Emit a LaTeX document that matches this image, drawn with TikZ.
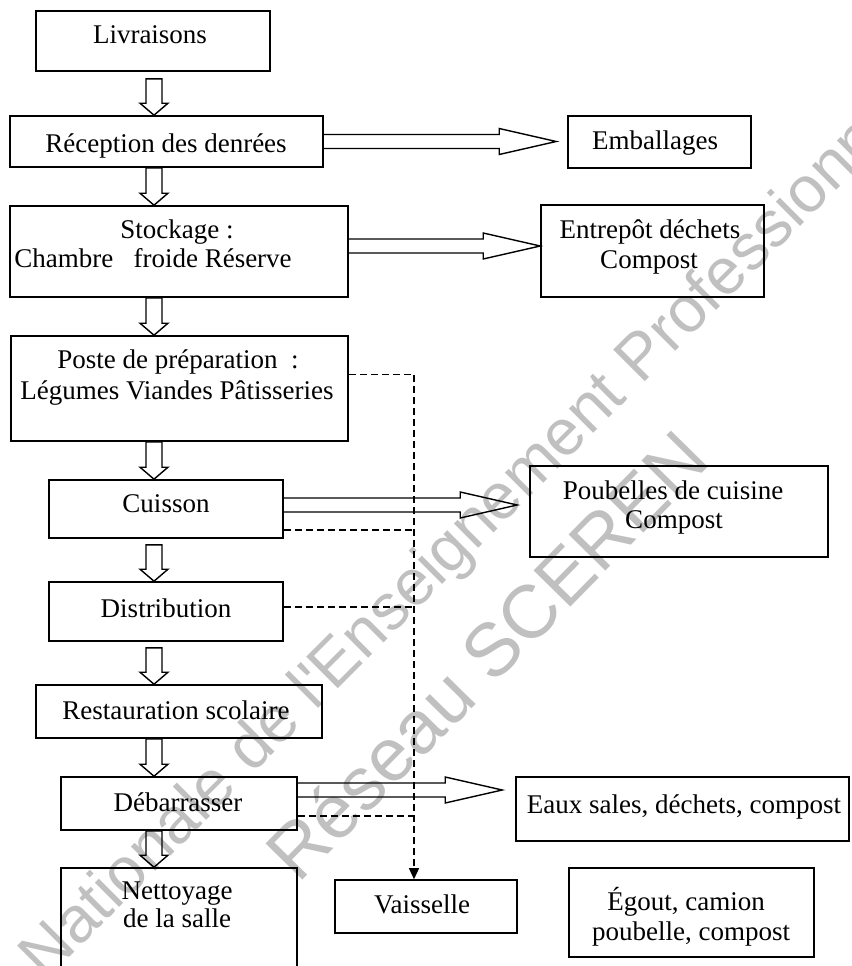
\documentclass[tikz,border=0pt]{standalone}
\usepackage{fontspec}
\setmainfont{Liberation Serif}
\newfontfamily\wmfont{Liberation Sans}
\usetikzlibrary{arrows.meta,fit}
\definecolor{wmgrey}{RGB}{192,192,192}
% hollow block arrow going down: #1 source, #2 target, #3 gap below source
\newcommand{\dnblock}[3]{%
  \draw[blk] ([xshift=-8pt,yshift=-#3]col |- #1.south)
    -- ([xshift=-8pt,yshift=12pt]col |- #2.north)
    -- ([xshift=-14pt,yshift=12pt]col |- #2.north)
    -- (col |- #2.north)
    -- ([xshift=14pt,yshift=12pt]col |- #2.north)
    -- ([xshift=8pt,yshift=12pt]col |- #2.north)
    -- ([xshift=8pt,yshift=-#3]col |- #1.south) -- cycle;}
% hollow block arrow going right: #1 source, #2 target, #3 vertical shift, #4 gap before target
\newcommand{\rtblock}[4]{%
  \coordinate (bs) at ([yshift=#3]#1.east);
  \coordinate (bt) at ([xshift=-#4]#2.west |- bs);
  \draw[blk] ([yshift=7pt]bs)
    -- ([xshift=-57pt,yshift=7pt]bt)
    -- ([xshift=-57pt,yshift=13pt]bt)
    -- (bt)
    -- ([xshift=-57pt,yshift=-13pt]bt)
    -- ([xshift=-57pt,yshift=-7pt]bt)
    -- ([yshift=-7pt]bs);}
\begin{document}
\begin{tikzpicture}[x=1pt,y=-1pt,
  box/.style={draw,line width=1.6pt,inner sep=0pt},
  txt/.style={anchor=base,inner sep=0pt,font=\fontsize{27}{29}\selectfont},
  blk/.style={draw,line width=1.4pt,line join=miter},
  dsh/.style={draw,line width=1.4pt,dash pattern=on 7pt off 4pt},
  wm/.style={anchor=base west,inner sep=0pt,text=wmgrey}]
\useasboundingbox (0,0) rectangle (851,966);
\clip (0,0) rectangle (851,966);

% watermark
\node[wm,rotate=45,font=\wmfont\fontsize{65}{65}\selectfont] (wm1) at (45,982) {Nationale de l'Enseignement Professionnel};
\node[wm,rotate=45.5,font=\wmfont\fontsize{75}{75}\selectfont] (wm2) at (298,885) {Réseau SCEREN};

% boxes
\node[box,fit={(36,11) (270,71)}] (liv) {};
\node[box,fit={(10,116) (323,167)}] (rec) {};
\node[box,fit={(568,116) (751,168)}] (emb) {};
\node[box,fit={(10,206) (348,297)}] (sto) {};
\node[box,fit={(541,205) (764,297)}] (ent) {};
\node[box,fit={(11,336) (348,441)}] (pos) {};
\node[box,fit={(49,480) (283,538)}] (cui) {};
\node[box,fit={(530,466) (828,557)}] (pou) {};
\node[box,fit={(49,582) (283,641)}] (dis) {};
\node[box,fit={(36,685) (322,738)}] (res) {};
\node[box,fit={(61,777) (297,830)}] (deb) {};
\node[box,fit={(516,777) (849,841)}] (eau) {};
\node[box,fit={(61,868) (297,990)}] (net) {};
\node[box,fit={(335,880) (517,933)}] (vai) {};
\node[box,fit={(569,868) (814,957)}] (ego) {};

% texts
\node[txt] (liv-t) at (150,44) {Livraisons};
\node[txt] (rec-t) at (166,152) {Réception des denrées};
\node[txt] (emb-t) at (655,149) {Emballages};
\node[txt] (sto-t1) at (177,238) {Stockage :};
\node[txt] (sto-t2) at (153,267) {Chambre\ \ \ froide Réserve};
\node[txt] (ent-t1) at (650,238) {Entrepôt déchets};
\node[txt] (ent-t2) at (649,268) {Compost};
\node[txt] (pos-t1) at (178,368) {Poste de préparation\ \ :};
\node[txt] (pos-t2) at (177,399) {Légumes Viandes Pâtisseries};
\node[txt] (cui-t) at (166,512) {Cuisson};
\node[txt] (pou-t1) at (673,499) {Poubelles de cuisine};
\node[txt] (pou-t2) at (674,528) {Compost};
\node[txt] (dis-t) at (166,617) {Distribution};
\node[txt] (res-t) at (176,719) {Restauration scolaire};
\node[txt] (deb-t) at (178,811) {Débarrasser};
\node[txt] (eau-t) at (684,813) {Eaux sales, déchets, compost};
\node[txt] (net-t1) at (177,899) {Nettoyage};
\node[txt] (net-t2) at (177,927) {de la salle};
\node[txt] (vai-t) at (422,913) {Vaisselle};
\node[txt] (ego-t1) at (686,910) {Égout, camion};
\node[txt] (ego-t2) at (691,940) {poubelle, compost};

% main flow (hollow down arrows)
\coordinate (col) at (154,0);
\dnblock{liv}{rec}{7pt}
\dnblock{rec}{sto}{0pt}
\dnblock{sto}{pos}{0pt}
\dnblock{pos}{cui}{0pt}
\dnblock{cui}{dis}{6pt}
\dnblock{dis}{res}{6pt}
\dnblock{res}{deb}{0pt}
\dnblock{deb}{net}{0pt}

% waste flows (hollow right arrows)
\rtblock{rec}{emb}{0pt}{11pt}
\rtblock{sto}{ent}{5.5pt}{0pt}
\rtblock{cui}{pou}{4pt}{12pt}
\rtblock{deb}{eau}{13.5pt}{13pt}

% dishes (dashed)
\coordinate (dx) at (414,0);
\coordinate (dp) at ([yshift=14pt]pos.east);
\coordinate (dc) at ([yshift=-21pt]cui.east);
\coordinate (dd) at ([yshift=4.5pt]dis.east);
\coordinate (db) at ([yshift=-12.5pt]deb.east);
\draw[dsh,-{Triangle[length=11pt,width=10pt]}] (dp) -- (dx |- dp) -- (dx |- vai.north);
\draw[dsh] (dc) -- (dx |- dc);
\draw[dsh] (dd) -- (dx |- dd);
\draw[dsh] (db) -- (dx |- db);
\end{tikzpicture}
\end{document}
